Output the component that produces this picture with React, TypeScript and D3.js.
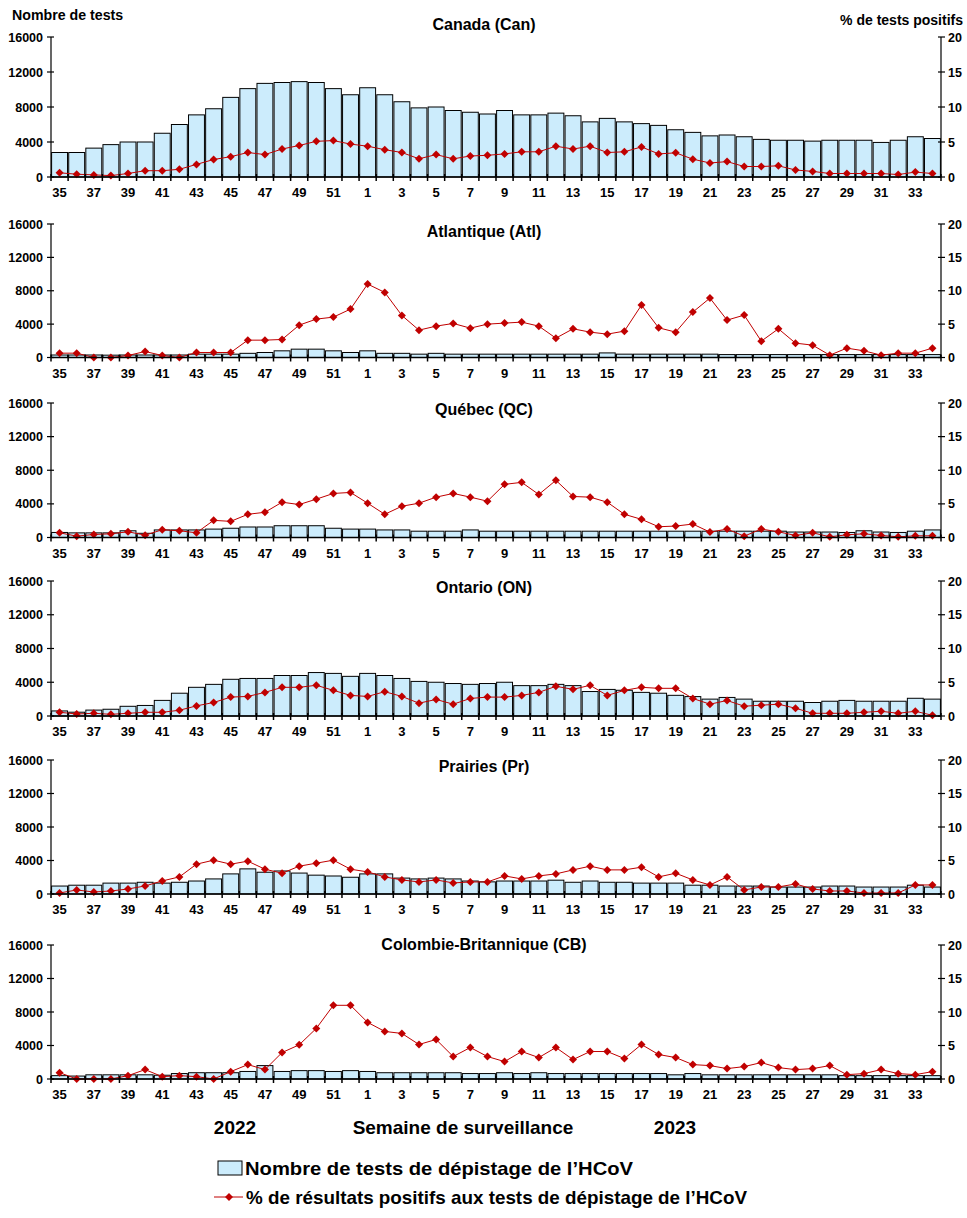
import React from 'react';
import * as d3 from 'd3';

const weeks: string[] = [
  '35','36','37','38','39','40','41','42','43','44','45','46','47','48','49','50','51','52',
  '1','2','3','4','5','6','7','8','9','10','11','12','13','14','15','16','17','18','19','20',
  '21','22','23','24','25','26','27','28','29','30','31','32','33','34'
];
const labeledWeeks: string[] = ['35','37','39','41','43','45','47','49','51','1','3','5','7','9','11','13','15','17','19','21','23','25','27','29','31','33'];

const regionTitles: string[] = ['Canada (Can)', 'Atlantique (Atl)', 'Québec (QC)', 'Ontario (ON)', 'Prairies (Pr)', 'Colombie-Britannique (CB)'];

const testsCan = [2800,2800,3300,3700,4000,4000,5000,6000,7100,7800,9100,10100,10700,10800,10900,10800,10100,9400,
  10200,9400,8600,7900,8000,7600,7400,7200,7600,7100,7100,7300,7000,6300,6700,6300,6100,5900,5400,5100,
  4700,4800,4600,4300,4200,4200,4100,4200,4200,4200,3950,4200,4600,4400];
const pctCan = [0.6,0.4,0.3,0.2,0.5,0.9,0.9,1.1,1.8,2.5,2.9,3.5,3.2,4.0,4.5,5.1,5.2,4.7,
  4.4,3.9,3.5,2.6,3.2,2.6,3.0,3.1,3.3,3.6,3.6,4.4,4.0,4.4,3.5,3.6,4.3,3.3,3.45,2.55,
  2.0,2.2,1.5,1.5,1.6,1.0,0.8,0.5,0.5,0.5,0.5,0.35,0.7,0.5];

const testsAtl = [300,300,300,280,300,300,300,300,400,400,400,500,600,800,1000,1000,800,600,
  800,500,500,400,500,400,400,400,400,400,400,400,400,400,550,400,400,400,400,400,
  400,350,350,350,350,350,350,350,350,350,350,350,350,350];
const pctAtl = [0.65,0.65,0.0,0.0,0.3,0.9,0.3,0.0,0.75,0.75,0.75,2.6,2.6,2.7,4.85,5.75,6.05,7.25,
  11.0,9.75,6.3,4.1,4.7,5.1,4.4,5.0,5.15,5.3,4.7,2.9,4.3,3.8,3.5,3.95,7.85,4.45,3.8,6.8,
  8.9,5.6,6.35,2.45,4.3,2.15,1.85,0.35,1.4,1.0,0.35,0.65,0.65,1.4];

const testsQC = [600,550,550,550,800,500,900,900,900,1000,1100,1250,1250,1400,1400,1400,1100,1000,
  1000,900,900,750,750,750,900,750,750,750,750,750,750,750,750,750,750,750,750,750,
  750,750,750,750,750,650,650,650,600,800,650,600,750,900];
const pctQC = [0.7,0.2,0.45,0.55,0.85,0.35,1.15,1.0,0.7,2.55,2.4,3.45,3.75,5.25,4.9,5.7,6.55,6.7,
  5.1,3.45,4.65,5.1,6.0,6.55,6.0,5.4,7.9,8.2,6.4,8.5,6.1,6.0,5.25,3.45,2.7,1.6,1.7,2.0,
  0.8,1.25,0.2,1.25,0.85,0.3,0.7,0.1,0.4,0.55,0.3,0.1,0.25,0.25];

const testsON = [600,450,700,800,1150,1250,1850,2700,3400,3750,4350,4450,4450,4800,4800,5150,5050,4700,
  5050,4800,4450,4100,4000,3850,3750,3850,4000,3600,3600,3750,3600,2900,3150,3050,2800,2700,2450,2300,
  2000,2200,2000,1750,1750,1750,1600,1750,1850,1750,1750,1750,2100,2000];
const pctON = [0.55,0.3,0.4,0.25,0.4,0.55,0.55,0.85,1.5,2.0,2.8,2.9,3.5,4.25,4.25,4.55,3.8,3.05,
  2.9,3.6,2.9,1.9,2.45,1.75,2.6,2.8,2.8,3.05,3.5,4.4,3.95,4.55,3.05,3.8,4.25,4.1,4.1,2.6,
  1.75,2.3,1.45,1.6,1.75,1.15,0.4,0.4,0.4,0.55,0.7,0.4,0.7,0.1];

const testsPr = [950,1050,1050,1300,1300,1400,1300,1400,1550,1800,2400,3000,2600,2750,2500,2250,2150,2000,
  2400,2400,1900,1800,1900,1800,1550,1450,1550,1550,1550,1650,1400,1550,1400,1400,1300,1300,1300,1050,
  1050,950,950,950,830,830,830,950,950,830,830,830,1050,830];
const pctPr = [0.15,0.6,0.3,0.45,0.75,1.2,1.95,2.55,4.45,5.05,4.45,4.9,3.7,3.1,4.15,4.6,5.05,3.7,
  3.3,2.55,2.1,1.8,2.1,1.65,1.8,1.8,2.7,2.25,2.7,3.0,3.6,4.15,3.6,3.6,4.0,2.55,3.1,2.1,
  1.35,2.55,0.6,1.05,1.05,1.5,0.75,0.45,0.45,0.15,0.15,0.15,1.35,1.35];

const testsCB = [400,350,500,500,500,500,450,650,750,750,750,900,1600,900,1000,1000,900,1000,
  900,750,750,750,750,750,650,650,750,650,750,650,650,650,650,650,650,650,500,650,
  500,500,500,500,500,500,500,500,400,400,400,400,400,400];
const pctCB = [0.95,0,0,0,0.5,1.4,0.35,0.5,0.35,0,1.1,2.15,1.4,3.95,5.1,7.55,11.0,11.0,
  8.45,7.1,6.8,5.15,5.9,3.35,4.7,3.35,2.6,4.1,3.2,4.7,2.9,4.1,4.1,3.05,5.15,3.65,3.2,2.15,
  2.0,1.55,1.85,2.45,1.7,1.4,1.55,2.0,0.65,0.8,1.4,0.8,0.65,1.1];

const testsTicks = [0, 4000, 8000, 12000, 16000];
const pctTicks = [0, 5, 10, 15, 20];

const seriesTests = [testsCan, testsAtl, testsQC, testsON, testsPr, testsCB];
const seriesPct = [pctCan, pctAtl, pctQC, pctON, pctPr, pctCB];

const legendBars = 'Nombre de tests de dépistage de l’HCoV';
const legendLine = '% de résultats positifs aux tests de dépistage de l’HCoV';

// layout
const W = 967, H = 1218;
const X0 = 51, X1 = 941;
const panelTops = [37, 224, 403, 581, 760, 945];
const panelBottoms = [177, 357.5, 537.5, 716, 894, 1079];
const titleYs = [30, 237, 415, 593, 772, 950];

const FONT = '"Liberation Sans", Arial, Helvetica, sans-serif';
const BAR_FILL = '#CCECFC';
const RED = '#C00000';

const x = d3.scaleBand<string>().domain(weeks).range([X0, X1]).paddingInner(0.07).paddingOuter(0.035);

function Panel({ i }: { i: number }) {
  const top = panelTops[i], bottom = panelBottoms[i];
  const y = d3.scaleLinear().domain([0, 16000]).range([bottom, top]);
  const y2 = d3.scaleLinear().domain([0, 20]).range([bottom, top]);
  const tests = seriesTests[i];
  const pct = seriesPct[i];
  const line = d3.line<number>()
    .x((_, k) => x(weeks[k])! + x.bandwidth() / 2)
    .y(d => y2(d));
  const boundaries = d3.range(weeks.length + 1).map(k => X0 + (X1 - X0) * k / weeks.length);
  return (
    <g>
      <text x={484} y={titleYs[i]} textAnchor="middle" fontFamily={FONT} fontWeight="bold" fontSize={16}>{regionTitles[i]}</text>
      {tests.map((v, k) => (
        <rect key={k} x={x(weeks[k])!} y={y(v)} width={x.bandwidth()} height={bottom - y(v)}
          fill={BAR_FILL} stroke="#000" strokeWidth={1} />
      ))}
      <path d={line(pct)!} fill="none" stroke={RED} strokeWidth={1} />
      {pct.map((v, k) => {
        const cx = x(weeks[k])! + x.bandwidth() / 2, cy = y2(v);
        return <path key={k} d={`M${cx},${cy - 4}L${cx + 4},${cy}L${cx},${cy + 4}L${cx - 4},${cy}Z`} fill={RED} />;
      })}
      <line x1={X0} x2={X0} y1={top} y2={bottom} stroke="#000" strokeWidth={1.2} />
      <line x1={X1} x2={X1} y1={top} y2={bottom} stroke="#000" strokeWidth={1.2} />
      <line x1={X0} x2={X1} y1={bottom} y2={bottom} stroke="#000" strokeWidth={1.5} />
      {testsTicks.map(t => (
        <g key={t}>
          <line x1={X0 - 4} x2={X0 + 3} y1={y(t)} y2={y(t)} stroke="#000" strokeWidth={1.2} />
          <text x={43} y={y(t) + 4.5} textAnchor="end" fontFamily={FONT} fontWeight="bold" fontSize={12.5}>{t}</text>
        </g>
      ))}
      {pctTicks.map(t => (
        <g key={t}>
          <line x1={X1 - 3} x2={X1 + 4} y1={y2(t)} y2={y2(t)} stroke="#000" strokeWidth={1.2} />
          <text x={948} y={y2(t) + 4.5} textAnchor="start" fontFamily={FONT} fontWeight="bold" fontSize={12.5}>{t}</text>
        </g>
      ))}
      {boundaries.map((bx, k) => (
        <line key={k} x1={bx} x2={bx} y1={bottom - 3} y2={bottom + 4} stroke="#000" strokeWidth={1.5} />
      ))}
      {labeledWeeks.map(w => (
        <text key={w} x={x(w)! + x.bandwidth() / 2} y={bottom + 20} textAnchor="middle" fontFamily={FONT} fontWeight="bold" fontSize={13}>{w}</text>
      ))}
    </g>
  );
}

export default function App() {
  return (
    <svg width={W} height={H} viewBox={`0 0 ${W} ${H}`} style={{ position: 'absolute', left: 0, top: 0, background: '#fff' }}>
      <rect x={0} y={0} width={W} height={H} fill="#fff" />
      <text x={12} y={20} fontFamily={FONT} fontWeight="bold" fontSize={14.2}>Nombre de tests</text>
      <text x={963} y={25} textAnchor="end" fontFamily={FONT} fontWeight="bold" fontSize={14}>%  de tests positifs</text>
      {regionTitles.map((_, i) => <Panel key={i} i={i} />)}
      <text x={235} y={1134} textAnchor="middle" fontFamily={FONT} fontWeight="bold" fontSize={19}>2022</text>
      <text x={463} y={1134} textAnchor="middle" fontFamily={FONT} fontWeight="bold" fontSize={19}>Semaine de surveillance</text>
      <text x={675} y={1134} textAnchor="middle" fontFamily={FONT} fontWeight="bold" fontSize={19}>2023</text>
      <rect x={218} y={1161} width={24} height={14} fill={BAR_FILL} stroke="#000" strokeWidth={1} />
      <text x={245} y={1175} fontFamily={FONT} fontWeight="bold" fontSize={19} textLength={388} lengthAdjust="spacingAndGlyphs">{legendBars}</text>
      <line x1={214} x2={243} y1={1197} y2={1197} stroke={RED} strokeWidth={1} />
      <path d="M229,1193L233,1197L229,1201L225,1197Z" fill={RED} />
      <text x={246} y={1204} fontFamily={FONT} fontWeight="bold" fontSize={19} textLength={501} lengthAdjust="spacingAndGlyphs">{legendLine}</text>
    </svg>
  );
}
